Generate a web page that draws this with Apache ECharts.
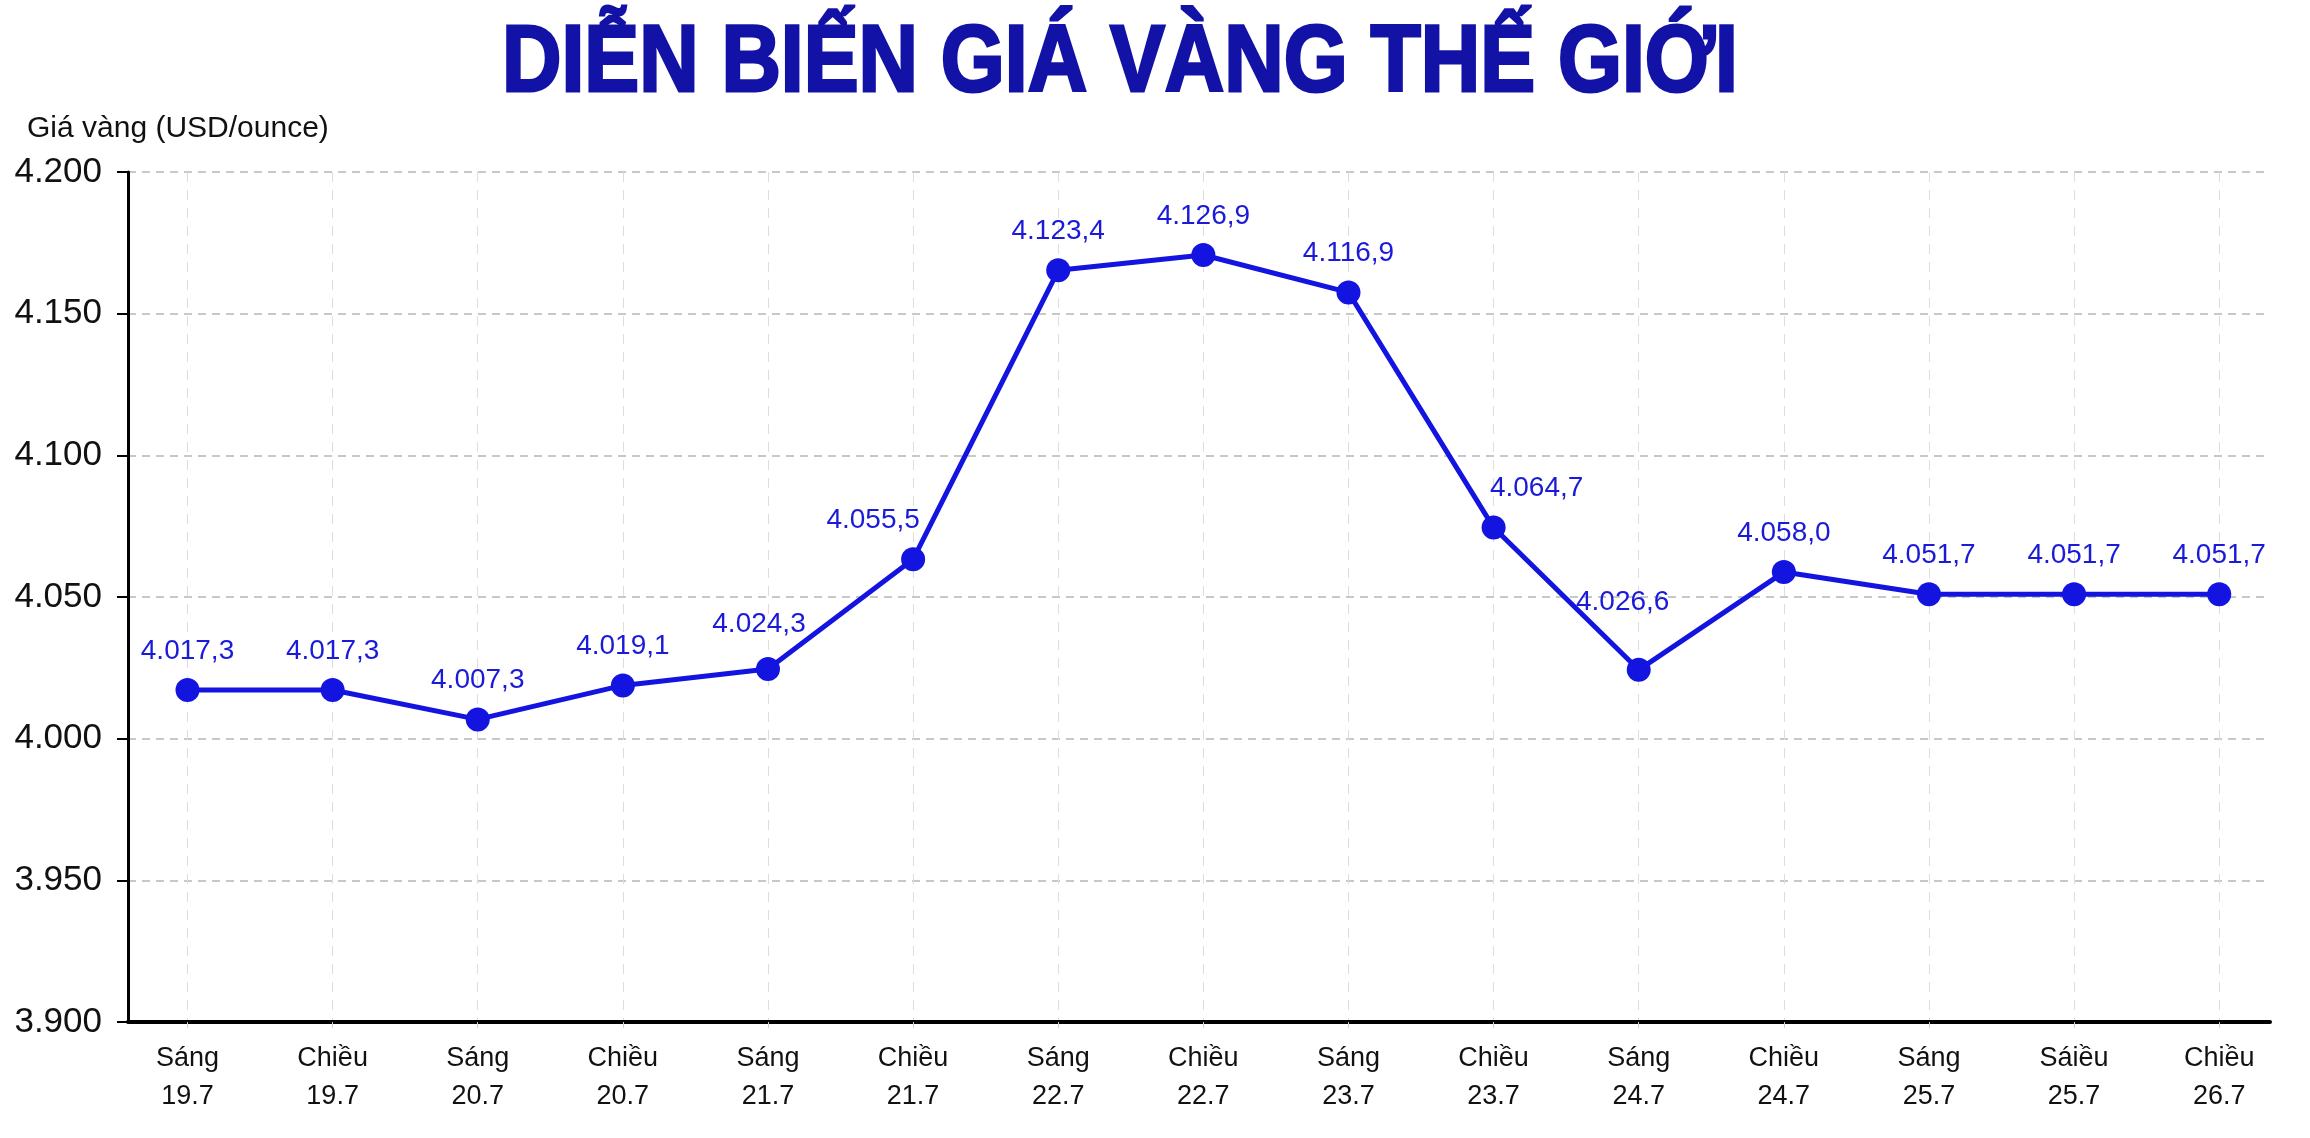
<!DOCTYPE html>
<html>
<head>
    <meta charset="UTF-8" />
    <title>Diễn biến giá vàng thế giới</title>
    <style>
        html, body { margin: 0; padding: 0; background: #ffffff; }
        #chart { width: 2310px; height: 1138px; }
    </style>
</head>
<body>
    <div id="chart"></div>
    <script src="https://cdn.jsdelivr.net/npm/echarts@6/dist/echarts.min.js"></script>
    <script>
        // mốc thời gian (trục hoành)
        var sessions = ['Sáng\n19.7', 'Chiều\n19.7', 'Sáng\n20.7', 'Chiều\n20.7', 'Sáng\n21.7',
            'Chiều\n21.7', 'Sáng\n22.7', 'Chiều\n22.7', 'Sáng\n23.7', 'Chiều\n23.7',
            'Sáng\n24.7', 'Chiều\n24.7', 'Sáng\n25.7', 'Sáiều\n25.7', 'Chiều\n26.7'];
        // vị trí điểm đọc trên hình (USD/ounce)
        var prices = [4017.2, 4017.2, 4006.8, 4018.8, 4024.6, 4063.3, 4165.3, 4170.7,
            4157.5, 4074.5, 4024.3, 4058.8, 4051.0, 4051.0, 4051.0];
        // nhãn ghi trên điểm
        var priceLabels = ['4.017,3', '4.017,3', '4.007,3', '4.019,1', '4.024,3', '4.055,5',
            '4.123,4', '4.126,9', '4.116,9', '4.064,7', '4.026,6', '4.058,0',
            '4.051,7', '4.051,7', '4.051,7'];
        var yTicks = [3900, 3950, 4000, 4050, 4100, 4150, 4200];

        var blue = '#1414e0';
        var titleBlue = '#1212a6';
        // dịch nhãn cho khỏi đè lên đường
        var labelNudge = { 4: [-9, -6], 5: [-40, 0], 9: [43, 0], 10: [-16, -29] };

        function dotted(v) {
            return String(v).replace(/\B(?=(\d{3})+(?!\d))/g, '.');
        }

        var idx = sessions.map(function (s, i) { return i; });
        var seriesData = prices.map(function (p, i) {
            var item = { value: [i, p] };
            if (labelNudge[i]) item.label = { offset: labelNudge[i] };
            return item;
        });

        var myChart = echarts.init(document.getElementById('chart'));
        var option = {
            backgroundColor: '#ffffff',
            animation: false,
            title: {
                text: 'Giá vàng (USD/ounce)',
                left: 27,
                top: 114,
                padding: 0,
                textStyle: {
                    fontFamily: '"Liberation Sans", Arial',
                    fontWeight: 'normal',
                    fontSize: 30,
                    lineHeight: 30,
                    color: '#111111'
                }
            },
            // tiêu đề chữ đậm, ép ngang cho giống font condensed
            graphic: [
                {
                    type: 'text',
                    x: 502,
                    y: 65,
                    scaleX: 0.866,
                    style: {
                        text: 'DIỄN BIẾN GIÁ VÀNG THẾ GIỚI',
                        font: 'bold 95px "Liberation Sans", Arial',
                        fill: titleBlue,
                        stroke: titleBlue,
                        lineWidth: 3,
                        align: 'left',
                        verticalAlign: 'middle'
                    }
                }
            ],
            grid: { left: 128, right: 40, top: 172, bottom: 116 },
            xAxis: {
                type: 'value',
                min: -0.41,
                max: 14.35,
                axisLine: { show: true, onZero: false, lineStyle: { color: '#000', width: 4 } },
                axisTick: { show: true, customValues: idx, length: 6, lineStyle: { color: '#d0d0d0', width: 1 } },
                axisLabel: {
                    customValues: idx,
                    formatter: function (v) { return sessions[Math.round(v)]; },
                    fontFamily: '"Liberation Sans", Arial',
                    fontSize: 27,
                    lineHeight: 38,
                    color: '#111111',
                    margin: 18
                },
                splitLine: { show: true, lineStyle: { color: '#dddddd', width: 1, type: [10, 8] } }
            },
            yAxis: {
                type: 'value',
                min: yTicks[0],
                max: yTicks[yTicks.length - 1],
                interval: 50,
                axisLine: { show: true, onZero: false, lineStyle: { color: '#000', width: 3 } },
                axisTick: { show: true, length: 11, lineStyle: { color: '#000', width: 2 } },
                axisLabel: {
                    formatter: dotted,
                    fontFamily: '"Liberation Sans", Arial',
                    fontSize: 35,
                    color: '#111111',
                    margin: 26
                },
                splitLine: { show: true, lineStyle: { color: '#c8c8c8', width: 2, type: [8, 6] } }
            },
            series: [
                {
                    name: 'Giá vàng',
                    type: 'line',
                    data: seriesData,
                    symbol: 'circle',
                    symbolSize: 24,
                    itemStyle: { color: blue },
                    lineStyle: { color: blue, width: 5 },
                    label: {
                        show: true,
                        position: 'top',
                        distance: 13,
                        formatter: function (p) { return priceLabels[p.dataIndex]; },
                        fontFamily: '"Liberation Sans", Arial',
                        fontSize: 28,
                        color: '#1a1ad8'
                    }
                }
            ]
        };
        myChart.setOption(option);
    </script>
</body>
</html>
